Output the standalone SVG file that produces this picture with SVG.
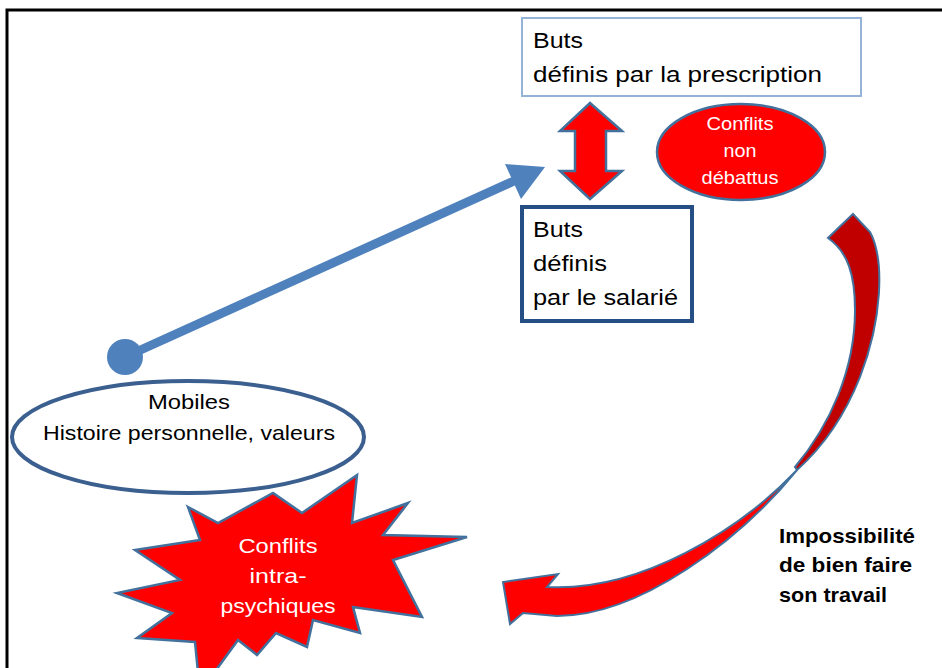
<svg xmlns="http://www.w3.org/2000/svg" width="942" height="668" viewBox="0 0 942 668">
<defs>
<style>
.t{font-family:"Liberation Sans",Arial,sans-serif;fill:#000;}
.w{font-family:"Liberation Sans",Arial,sans-serif;fill:#fff;text-anchor:middle;}
.b{font-family:"Liberation Sans",Arial,sans-serif;fill:#000;font-weight:bold;}
.redshape{fill:#ff0000;stroke:#41719c;stroke-width:2.5;stroke-linejoin:miter;}
</style>
</defs>
<rect x="0" y="0" width="942" height="668" fill="#fff"/>
<path d="M7,668 L7,10 L942,10" fill="none" stroke="#000" stroke-width="3"/>

<g id="connectors">
  <g id="blue-arrow">
    <line x1="125" y1="357" x2="514" y2="181" stroke="#4f81bd" stroke-width="9"/>
    <circle cx="125" cy="357" r="18" fill="#4f81bd"/>
    <polygon points="545,167 505,164 521,199" fill="#4f81bd"/>
  </g>
  <polygon id="double-arrow" class="redshape" points="590,103 622,131 606,131 606,171 622,171 590,199 560,171 575,171 575,131 560,131"/>
  <g id="curved-arrow">
    <path d="M853,214 L870,232 C885,260 882,320 860,377 C845,415 825,445 797,470 L795,467 C830,425 855,370 855,310 C855,275 848,252 828,238 Z" fill="#c00000" stroke="#41719c" stroke-width="2"/>
    <path d="M797,470 C740,540 640,616 557,616 L523,613 L510,624 L503,582 L558,574 L547,587 C640,592 740,530 797,470 Z" fill="#ff0000" stroke="#41719c" stroke-width="2" stroke-linejoin="miter"/>
  </g>
</g>

<g id="node-prescription">
  <rect x="522" y="18" width="339" height="78" fill="#fff" stroke="#95b3d7" stroke-width="2"/>
  <text class="t" x="533" y="48" font-size="22" textLength="50" lengthAdjust="spacingAndGlyphs">Buts</text>
  <text class="t" x="533" y="82" font-size="22" textLength="289" lengthAdjust="spacingAndGlyphs">définis par la prescription</text>
</g>

<g id="node-salarie">
  <rect x="522" y="207" width="170" height="114" fill="#fff" stroke="#254e84" stroke-width="4"/>
  <text class="t" x="533" y="237" font-size="22" textLength="50" lengthAdjust="spacingAndGlyphs">Buts</text>
  <text class="t" x="533" y="271" font-size="22" textLength="74" lengthAdjust="spacingAndGlyphs">définis</text>
  <text class="t" x="533" y="305" font-size="22" textLength="145" lengthAdjust="spacingAndGlyphs">par le salarié</text>
</g>

<g id="node-conflits-non-debattus">
  <ellipse cx="741" cy="152" rx="84" ry="48" class="redshape"/>
  <text class="w" x="740" y="130" font-size="19" textLength="67" lengthAdjust="spacingAndGlyphs">Conflits</text>
  <text class="w" x="740" y="157" font-size="19" textLength="33" lengthAdjust="spacingAndGlyphs">non</text>
  <text class="w" x="740" y="184" font-size="19" textLength="77" lengthAdjust="spacingAndGlyphs">débattus</text>
</g>

<g id="node-mobiles">
  <ellipse cx="188" cy="437" rx="176" ry="56" fill="#fff" stroke="#3b5f8f" stroke-width="4"/>
  <text class="t" x="189" y="409" font-size="21" text-anchor="middle" textLength="82" lengthAdjust="spacingAndGlyphs">Mobiles</text>
  <text class="t" x="189" y="440" font-size="21" text-anchor="middle" textLength="292" lengthAdjust="spacingAndGlyphs">Histoire personnelle, valeurs</text>
</g>

<g id="node-conflits-intra">
  <polygon class="redshape" points="188,507 218,523 273,493 302,513 357,475 352,523 408,503 383,535 467,537 393,560 422,617 353,607 360,633 313,620 307,647 276,633 257,655 238,640 200,692 195,642 137,638 172,613 117,593 180,580 135,550 200,540"/>
  <text class="w" x="278" y="553" font-size="21" textLength="79" lengthAdjust="spacingAndGlyphs">Conflits</text>
  <text class="w" x="278" y="583" font-size="21" textLength="57" lengthAdjust="spacingAndGlyphs">intra-</text>
  <text class="w" x="278" y="613" font-size="21" textLength="115" lengthAdjust="spacingAndGlyphs">psychiques</text>
</g>

<g id="label-impossibilite">
  <text class="b" x="779" y="543" font-size="21" textLength="136" lengthAdjust="spacingAndGlyphs">Impossibilité</text>
  <text class="b" x="779" y="572" font-size="21" textLength="133" lengthAdjust="spacingAndGlyphs">de bien faire</text>
  <text class="b" x="779" y="602" font-size="21" textLength="108" lengthAdjust="spacingAndGlyphs">son travail</text>
</g>
</svg>
